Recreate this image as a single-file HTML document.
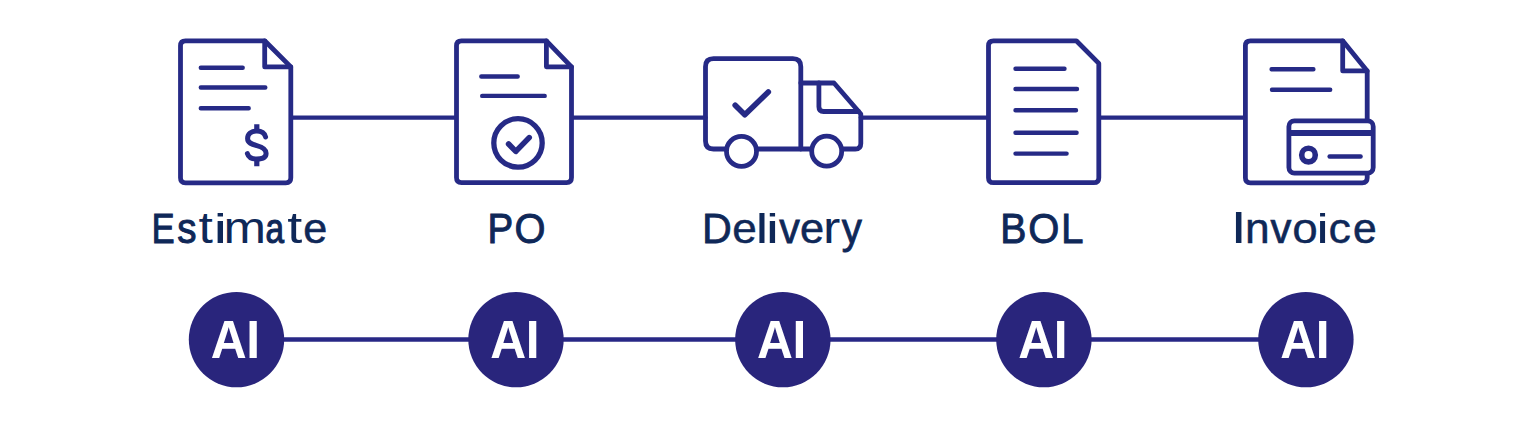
<!DOCTYPE html>
<html><head><meta charset="utf-8">
<style>
html,body{margin:0;padding:0;background:#ffffff;width:1536px;height:443px;overflow:hidden;}
svg{display:block;position:absolute;left:0;top:0;}
</style></head>
<body>
<svg width="1536" height="443" viewBox="0 0 1536 443">
<g fill="none" stroke="#262a86" stroke-width="4.8" stroke-linecap="round" stroke-linejoin="round">
  <!-- connectors -->
  <path d="M290.8 117.6 H456.5 M571.5 117.6 H705.5 M860.8 117.6 H988.5 M1098.8 117.6 H1245.4" stroke-width="4.4"/>

  <!-- Estimate doc -->
  <path d="M264.7 40.8 H185.5 Q180.5 40.8 180.5 45.8 V177.8 Q180.5 182.8 185.5 182.8 H285.8 Q290.8 182.8 290.8 177.8 V66.9 Z" fill="#fff"/>
  <path d="M264.7 40.8 V66.9 H290.8"/>
  <path d="M200.8 67.8 H242.7 M200.8 87.5 H265.3 M200.8 108.3 H248.7" stroke-width="4.4"/>
  <path d="M265.6 137 C264.6 133 261 131 256.8 131 C251.5 131 247.6 134 247.6 138.5 C247.6 143 252 144.3 256.8 145.6 C262 147 266.1 149 266.1 153.2 C266.1 157.3 262 159 256.8 159 C252 159 248.5 157.5 247.4 153.6" stroke-width="5"/>
  <path d="M256.8 124.2 V131 M256.8 159 V166.3" stroke-width="5.2" stroke-linecap="butt"/>

  <!-- PO doc -->
  <path d="M546.4 40.8 H461.5 Q456.5 40.8 456.5 45.8 V177.6 Q456.5 182.6 461.5 182.6 H566.5 Q571.5 182.6 571.5 177.6 V66.8 Z" fill="#fff"/>
  <path d="M546.4 40.8 V66.8 H571.5"/>
  <path d="M481.3 76.5 H517.7 M482.2 95.9 H544.7" stroke-width="4.4"/>
  <circle cx="518" cy="142.9" r="24.2" stroke-width="5.3"/>
  <path d="M508.6 144 L515.8 151.4 L529.2 137.6" stroke-width="5.6"/>

  <!-- Truck -->
  <path d="M800.8 149 H713.5 Q705.5 149 705.5 141 V66.7 Q705.5 58.7 713.5 58.7 H792.8 Q800.8 58.7 800.8 66.7 V149"/>
  <path d="M800.8 83 H834 L860.8 114 V143.5 Q860.8 149 855.3 149 H800.8"/>
  <path d="M818.9 83 V106.8 Q818.9 111.5 823.6 111.5 H858.4"/>
  <circle cx="741.5" cy="151.4" r="15" fill="#fff"/>
  <circle cx="826.7" cy="151.2" r="15" fill="#fff"/>
  <path d="M735.2 105.2 L744.8 114.8 L768.3 92" stroke-width="5.6"/>

  <!-- BOL doc -->
  <path d="M1076.3 40.8 H993.5 Q988.5 40.8 988.5 45.8 V177.7 Q988.5 182.7 993.5 182.7 H1093.8 Q1098.8 182.7 1098.8 177.7 V63.4 Z" fill="#fff"/>
  <path d="M1015.5 68.8 H1064.5 M1015.5 89 H1077 M1015.5 110.2 H1076 M1015.5 132.7 H1076.6 M1015.5 153.6 H1066.6" stroke-width="4.4"/>

  <!-- Invoice doc -->
  <path d="M1342.7 40.8 H1250.4 Q1245.4 40.8 1245.4 45.8 V177.8 Q1245.4 182.8 1250.4 182.8 H1362.2 Q1367.2 182.8 1367.2 177.8 V70.9 Z" fill="#fff"/>
  <path d="M1342.7 40.8 V70.9 H1367.2"/>
  <path d="M1271.6 69.3 H1313.4 M1272 89.8 H1330.2" stroke-width="4.4"/>
  <rect x="1288.9" y="120.9" width="84.3" height="52.2" rx="5.5" fill="#fff"/>
  <path d="M1288.9 132.9 H1373.2" stroke-width="6" stroke-linecap="butt"/>
  <circle cx="1308.5" cy="155.1" r="6.8" stroke-width="5.6"/>
  <path d="M1329.6 156.5 H1360.6" stroke-width="4.4"/>
</g>

<!-- labels -->
<g font-family="Liberation Sans, sans-serif" fill="#0f2858" stroke="#0f2858">
  <text font-size="42.15" stroke-width="1.20" transform="translate(151.70 243.10) scale(0.810 1.000)">E</text>
  <text font-size="42.43" stroke-width="1.01" transform="translate(177.33 243.10) scale(0.908 1.000)">s</text>
  <text font-size="43.90" stroke-width="0.00" transform="translate(198.42 243.10) scale(1.178 1.000)">t</text>
  <text font-size="43.90" stroke-width="0.00" transform="translate(213.39 243.10) scale(1.400 0.927)">i</text>
  <text font-size="43.90" stroke-width="0.00" transform="translate(223.51 243.10) scale(1.164 1.000)">m</text>
  <text font-size="42.15" stroke-width="1.20" transform="translate(265.39 243.10) scale(0.790 1.000)">a</text>
  <text font-size="43.90" stroke-width="0.00" transform="translate(287.18 243.10) scale(1.231 1.000)">t</text>
  <text font-size="43.05" stroke-width="0.58" transform="translate(303.26 243.10) scale(1.001 1.000)">e</text>
  <text font-size="42.43" stroke-width="1.01" transform="translate(487.45 243.10) scale(0.907 1.000)">P</text>
  <text font-size="42.61" stroke-width="0.88" transform="translate(514.55 243.10) scale(0.936 1.000)">O</text>
  <text font-size="42.81" stroke-width="0.75" transform="translate(702.09 243.10) scale(0.964 1.000)">D</text>
  <text font-size="43.19" stroke-width="0.48" transform="translate(732.27 243.10) scale(1.022 1.000)">e</text>
  <text font-size="43.90" stroke-width="0.00" transform="translate(755.39 243.10) scale(1.322 0.943)">l</text>
  <text font-size="43.90" stroke-width="0.00" transform="translate(765.77 243.10) scale(1.374 0.927)">i</text>
  <text font-size="42.80" stroke-width="0.75" transform="translate(779.23 243.10) scale(0.964 1.000)">v</text>
  <text font-size="43.09" stroke-width="0.56" transform="translate(799.94 243.10) scale(1.006 1.000)">e</text>
  <text font-size="43.90" stroke-width="0.00" transform="translate(822.95 243.10) scale(1.185 1.000)">r</text>
  <text font-size="42.67" stroke-width="0.84" transform="translate(841.72 243.10) scale(0.944 1.000)">y</text>
  <text font-size="42.52" stroke-width="0.95" transform="translate(1000.36 243.10) scale(0.922 1.000)">B</text>
  <text font-size="42.64" stroke-width="0.87" transform="translate(1028.24 243.10) scale(0.939 1.000)">O</text>
  <text font-size="42.71" stroke-width="0.82" transform="translate(1060.88 243.10) scale(0.950 1.000)">L</text>
  <text font-size="43.90" stroke-width="0.00" transform="translate(1230.46 243.10) scale(1.344 1.000)">I</text>
  <text font-size="43.22" stroke-width="0.46" transform="translate(1245.09 243.10) scale(1.026 1.000)">n</text>
  <text font-size="42.87" stroke-width="0.71" transform="translate(1270.61 243.10) scale(0.974 1.000)">v</text>
  <text font-size="43.43" stroke-width="0.32" transform="translate(1292.13 243.10) scale(1.057 1.000)">o</text>
  <text font-size="43.90" stroke-width="0.00" transform="translate(1316.19 243.10) scale(1.296 0.927)">i</text>
  <text font-size="43.31" stroke-width="0.40" transform="translate(1328.39 243.10) scale(1.039 1.000)">c</text>
  <text font-size="42.98" stroke-width="0.63" transform="translate(1353.01 243.10) scale(0.990 1.000)">e</text>
</g>

<!-- AI row -->
<path d="M236.5 339.6 H1305.9" stroke="#282886" stroke-width="4.5" fill="none"/>
<g fill="#29257c">
  <circle cx="236.50" cy="339.6" r="47.7"/>
  <circle cx="516.00" cy="339.6" r="47.7"/>
  <circle cx="782.85" cy="339.6" r="47.7"/>
  <circle cx="1043.90" cy="339.6" r="47.7"/>
  <circle cx="1305.90" cy="339.6" r="47.7"/>
</g>
<g font-family="Liberation Sans, sans-serif" font-weight="bold" font-size="54.5" fill="#ffffff" letter-spacing="-0.5">
  <text transform="translate(210.76 358.4) scale(0.913 1)">AI</text>
  <text transform="translate(490.26 358.4) scale(0.913 1)">AI</text>
  <text transform="translate(757.11 358.4) scale(0.913 1)">AI</text>
  <text transform="translate(1018.16 358.4) scale(0.913 1)">AI</text>
  <text transform="translate(1280.16 358.4) scale(0.913 1)">AI</text>
</g>
</svg>
</body></html>
